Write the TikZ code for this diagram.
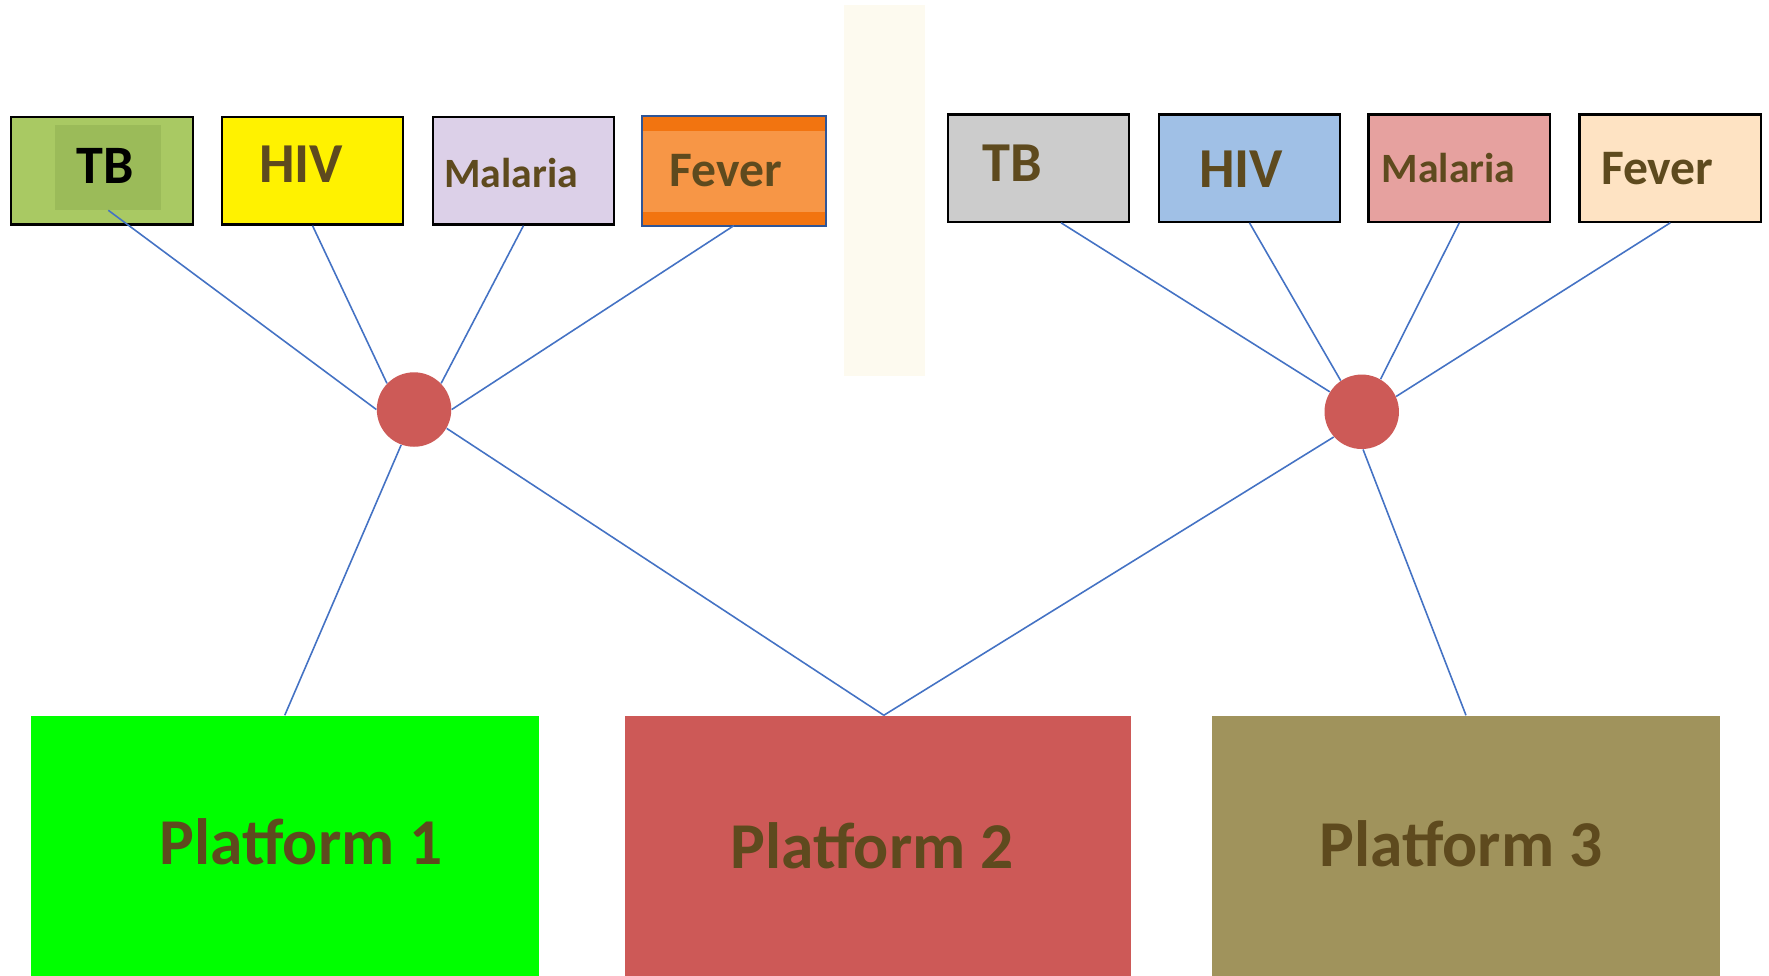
\documentclass[tikz,border=0pt]{standalone}
\usepackage{fontspec}
\setmainfont{Carlito}
\usetikzlibrary{calc}
\definecolor{txtbrown}{HTML}{5E4A1E}
\definecolor{linkblue}{HTML}{4472C4}
\definecolor{tbouter}{HTML}{A9C963}
\definecolor{tbinner}{HTML}{9BBB59}
\definecolor{malL}{HTML}{DCD0E8}
\definecolor{fevL}{HTML}{F79646}
\definecolor{fevbar}{HTML}{F27410}
\definecolor{fevborder}{HTML}{2E5597}
\definecolor{tbR}{HTML}{CCCCCC}
\definecolor{hivR}{HTML}{A0C0E6}
\definecolor{malR}{HTML}{E6A19F}
\definecolor{fevR}{HTML}{FEE3C3}
\definecolor{dotred}{HTML}{CD5A57}
\definecolor{plat2}{HTML}{CD5957}
\definecolor{plat3}{HTML}{A0935C}
\definecolor{strip}{HTML}{FDFAEF}
\tikzset{
  dbox/.style={draw=black, line width=1pt, minimum width=80.5pt, minimum height=47.5pt, inner sep=0pt},
  hub/.style={circle, fill=dotred, minimum size=33pt, inner sep=0pt},
  plat/.style={minimum width=225pt, minimum height=115.5pt, inner sep=0pt},
  link/.style={draw=linkblue, line width=0.7pt},
  lbl/.style={font=\bfseries, text=txtbrown, inner sep=0pt}
}
\begin{document}
\begin{tikzpicture}[x=0.5pt, y=-0.5pt]
\useasboundingbox (0,0) rectangle (1568,865);
\fill[white] (0,0) rectangle (1568,865);
% pale strip
\fill[strip] (748,4) rectangle (820,333);
% left boxes
\node[dbox, fill=tbouter] (tbL) at (90.5,151.5) {};
\node[fill=tbinner, minimum width=47pt, minimum height=37.5pt, inner sep=0pt] (tbLin) at (96,148.5) {};
\node[dbox, fill=yellow] (hivL) at (277,151.5) {};
\node[dbox, fill=malL] (malL) at (464,151.5) {};
\node[dbox, draw=none, fill=fevL] (fevL) at (650.5,151.5) {};
\fill[fevbar] (fevL.north west) rectangle ($(fevL.north east)+(0,13)$);
\fill[fevbar] (fevL.south west) rectangle ($(fevL.south east)+(0,-12)$);
\draw[fevborder, line width=1pt] (fevL.north west) rectangle (fevL.south east);
% right boxes
\node[dbox, fill=tbR] (tbR) at (920.5,149) {};
\node[dbox, fill=hivR] (hivR) at (1107.5,149) {};
\node[dbox, fill=malR] (malR) at (1293.5,149) {};
\node[dbox, fill=fevR] (fevR) at (1480.5,149) {};
% labels
\node[lbl, text=black, font=\bfseries\fontsize{24}{28}\selectfont] (tTBL) at (93,147) {TB};
\node[lbl, font=\bfseries\fontsize{25}{30}\selectfont] (tHIVL) at (267,146) {HIV};
\node[lbl, font=\bfseries\fontsize{18.5}{22}\selectfont] (tMalL) at (453,153) {Malaria};
\node[lbl, font=\bfseries\fontsize{22}{26}\selectfont] (tFevL) at (643,151) {Fever};
\node[lbl, font=\bfseries\fontsize{25}{30}\selectfont] (tTBR) at (897,145) {TB};
\node[lbl, font=\bfseries\fontsize{25}{30}\selectfont] (tHIVR) at (1100,150) {HIV};
\node[lbl, font=\bfseries\fontsize{18.5}{22}\selectfont] (tMalR) at (1284,149) {Malaria};
\node[lbl, font=\bfseries\fontsize{22}{26}\selectfont] (tFevR) at (1469,149) {Fever};
% hubs
\node[hub] (hubL) at (367,363) {};
\node[hub] (hubR) at (1207,365) {};
% platforms
\node[plat, fill=green, anchor=north west] (p1) at (27,634) {};
\node[plat, fill=plat2, anchor=north west, minimum width=224pt] (p2) at (554,634) {};
\node[plat, fill=plat3, anchor=north west] (p3) at (1074,634) {};
\node[lbl, font=\bfseries\fontsize{29}{34}\selectfont] (tP1) at (267,746) {Platform 1};
\node[lbl, font=\bfseries\fontsize{29}{34}\selectfont] (tP2) at (773,750) {Platform 2};
\node[lbl, font=\bfseries\fontsize{29}{34}\selectfont] (tP3) at (1295,748) {Platform 3};
% connectors
\coordinate (p2top) at ($(p2.north)+(5,0)$);
\coordinate (tbRbot) at ($(tbR.south)+(20,0)$);
\draw[link] (tbLin.south) -- (hubL.180);
\draw[link] (hivL.south) -- (hubL.136);
\draw[link] (malL.south) -- (hubL.44);
\draw[link] (fevL.south) -- (hubL.0);
\draw[link] (hubL.-110) -- (p1.north);
\draw[link] (hubL.-30) -- (p2top);
\draw[link] (tbRbot) -- (hubR.148);
\draw[link] (hivR.south) -- (hubR.124);
\draw[link] (malR.south) -- (hubR.60);
\draw[link] (fevR.south) -- (hubR.24);
\draw[link] (hubR.-138) -- (p2top);
\draw[link] (hubR.-88) -- (p3.north);
\end{tikzpicture}
\end{document}
